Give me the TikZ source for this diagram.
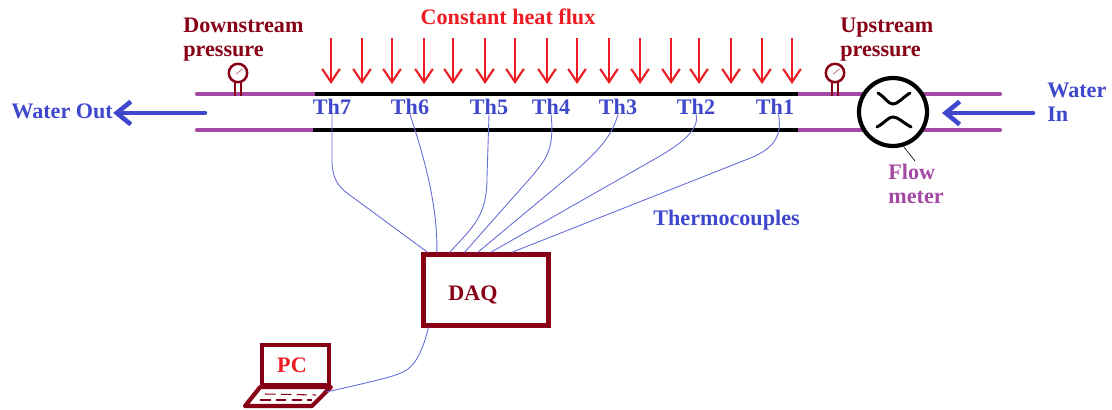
\documentclass[tikz,border=0pt]{standalone}
\usepackage{fontspec}
\setmainfont{Liberation Serif}
\usetikzlibrary{arrows.meta}

\definecolor{darkred}{HTML}{880015}
\definecolor{heatred}{HTML}{ED1C24}
\definecolor{waterblue}{HTML}{3F48CC}
\definecolor{pipepurple}{HTML}{A349A4}

\tikzset{
  label text/.style = {inner sep=0pt, font=\bfseries\fontsize{12.6}{13.6}\selectfont, align=left},
  pipe/.style = {pipepurple, line width=2.4pt, line cap=round},
  heated/.style = {black, line width=2.4pt},
  heat/.style = {heatred, line width=1.2pt, -{Straight Barb[length=7.5pt,width=10pt,line width=1.2pt]}},
  flow/.style = {waterblue, line width=2.6pt, line cap=round, -{Straight Barb[length=8pt,width=13pt,line width=2.6pt]}},
  wire/.style = {waterblue!80, line width=0.5pt},
  gauge/.style = {circle, draw=darkred, fill=white, line width=1.4pt, minimum size=10.5pt, inner sep=0pt},
}

\begin{document}
\begin{tikzpicture}[x=0.02cm, y=-0.02cm]
  \useasboundingbox (0, 0) rectangle (1112, 409);

  % pipe
  \draw[pipe] (197, 94) -- (315, 94);
  \draw[pipe] (197, 130) -- (315, 130);
  \draw[pipe] (798, 94) -- (1000, 94);
  \draw[pipe] (798, 130) -- (1000, 130);
  \draw[heated] (315, 94) -- (798, 94);
  \draw[heated] (313, 130) -- (798, 130);

  % heat flux
  \foreach \x in {331, 362, 392, 424, 453, 485, 515, 547, 577, 609, 640, 671, 699, 731, 762, 792}
    \draw[heat] (\x, 38) -- (\x, 84);
  \node[label text, heatred, anchor=base] (flux) at (508, 24) {Constant heat flux};

  % pressure gauges
  \node[gauge] (gaugeD) at (238, 73) {};
  \node[gauge] (gaugeU) at (835, 73) {};
  \foreach \g in {gaugeD, gaugeU} {
    \draw[darkred, line width=1pt] ([xshift=-1.6pt]\g.south) -- ++(0, -7.2pt);
    \draw[darkred, line width=1pt] ([xshift=1.6pt]\g.south) -- ++(0, -7.2pt);
    \draw[darkred!60, line width=0.4pt] ([shift={(-1pt,-0.6pt)}]\g.center) -- ([shift={(2.6pt,2.4pt)}]\g.center);
  }
  \node[label text, darkred, anchor=north west] (down) at (183, 17.5) {Downstream\\pressure};
  \node[label text, darkred, anchor=north west] (up) at (840, 17.5) {Upstream\\pressure};

  % flow meter
  \node[circle, draw=black, fill=white, line width=2.4pt, minimum size=1.36cm, inner sep=0pt] (meter) at (893, 112) {};
  \draw[black, line width=1.7pt, line cap=round] (878, 93) .. controls (886, 98) and (888, 104) .. (893, 104) .. controls (898, 104) and (902, 98) .. (910, 93);
  \draw[black, line width=1.7pt, line cap=round] (877, 127) .. controls (886, 122) and (888, 117) .. (893, 117) .. controls (898, 117) and (902, 122) .. (911, 127);
  \node[label text, pipepurple, anchor=north west] (meterlabel) at (888, 164) {Flow\\meter};
  \coordinate (leader) at (915, 161);
  \draw[black, line width=0.35pt] (meter.-73) -- (leader);

  % water in and out
  \node[label text, waterblue, anchor=north west] (waterin) at (1047, 82.5) {Water\\In};
  \node[label text, waterblue, anchor=base west] (waterout) at (11, 118) {Water Out};
  \coordinate (pipeout) at (205, 113);
  \coordinate (pipein) at (1033, 113);
  \coordinate (meterin) at (942, 113);
  \draw[flow] (pipeout) -- (pipeout -| waterout.east);
  \draw[flow] (pipein) -- (meterin);

  % thermocouples
  \node[label text, waterblue, anchor=base] (Th7) at (332, 114) {Th7};
  \node[label text, waterblue, anchor=base] (Th6) at (410, 114) {Th6};
  \node[label text, waterblue, anchor=base] (Th5) at (489, 114) {Th5};
  \node[label text, waterblue, anchor=base] (Th4) at (551, 114) {Th4};
  \node[label text, waterblue, anchor=base] (Th3) at (618, 114) {Th3};
  \node[label text, waterblue, anchor=base] (Th2) at (696, 114) {Th2};
  \node[label text, waterblue, anchor=base] (Th1) at (775, 114) {Th1};
  \node[label text, waterblue, anchor=base west] (couples) at (653, 225) {Thermocouples};

  % DAQ and PC
  \node[draw=darkred, line width=2.4pt, minimum width=2.5cm, minimum height=1.42cm, inner sep=0pt] (DAQ) at (486, 290) {};
  \node[label text, darkred, anchor=base west] (daqlabel) at (448, 300) {DAQ};
  \node[draw=darkred, line width=2.4pt, minimum width=1.33cm, minimum height=0.8cm, inner sep=0pt] (PC) at (295.5, 365) {};
  \node[label text, heatred, anchor=base] (pclabel) at (292, 372) {PC};
  \draw[darkred, line width=2.4pt, line join=round, fill=white] (PC.south west) -- (PC.south east) -- (312, 406) -- (245, 406) -- cycle;
  \draw[darkred, line width=0.6pt, dash pattern=on 6pt off 3pt] (265, 394) -- (316, 395);
  \draw[darkred, line width=0.6pt, dash pattern=on 6pt off 3pt] (260, 400) -- (312, 400);

  \draw[wire] (Th7.south) -- (332, 160) .. controls (332, 178) and (338, 186) .. (347, 193) -- ([xshift=3.6pt]DAQ.north west);
  \draw[wire] (Th6.south) .. controls (420, 145) and (438, 200) .. ([xshift=8.8pt]DAQ.north west);
  \draw[wire] (Th5.south) -- (487, 177) .. controls (487, 215) and (475, 225) .. ([xshift=16pt]DAQ.north west);
  \draw[wire] (Th4.south) .. controls (555, 150) and (545, 160) .. (533, 175) -- ([xshift=24.5pt]DAQ.north west);
  \draw[wire] (Th3.south) .. controls (612, 135) and (600, 150) .. (573, 173) -- ([xshift=32pt]DAQ.north west);
  \draw[wire] (Th2.south) .. controls (700, 130) and (680, 145) .. (653, 160) -- ([xshift=39.4pt]DAQ.north west);
  \draw[wire] ([xshift=2pt]Th1.south) .. controls (782, 135) and (775, 147) .. (753, 157) -- ([xshift=51.4pt]DAQ.north west);
  \coordinate (pcport) at (326, 392);
  \draw[wire] ([xshift=4pt]DAQ.south west) .. controls (423, 350) and (415, 367) .. (403, 372) .. controls (395, 376) and (380, 380) .. (pcport);
\end{tikzpicture}
\end{document}
